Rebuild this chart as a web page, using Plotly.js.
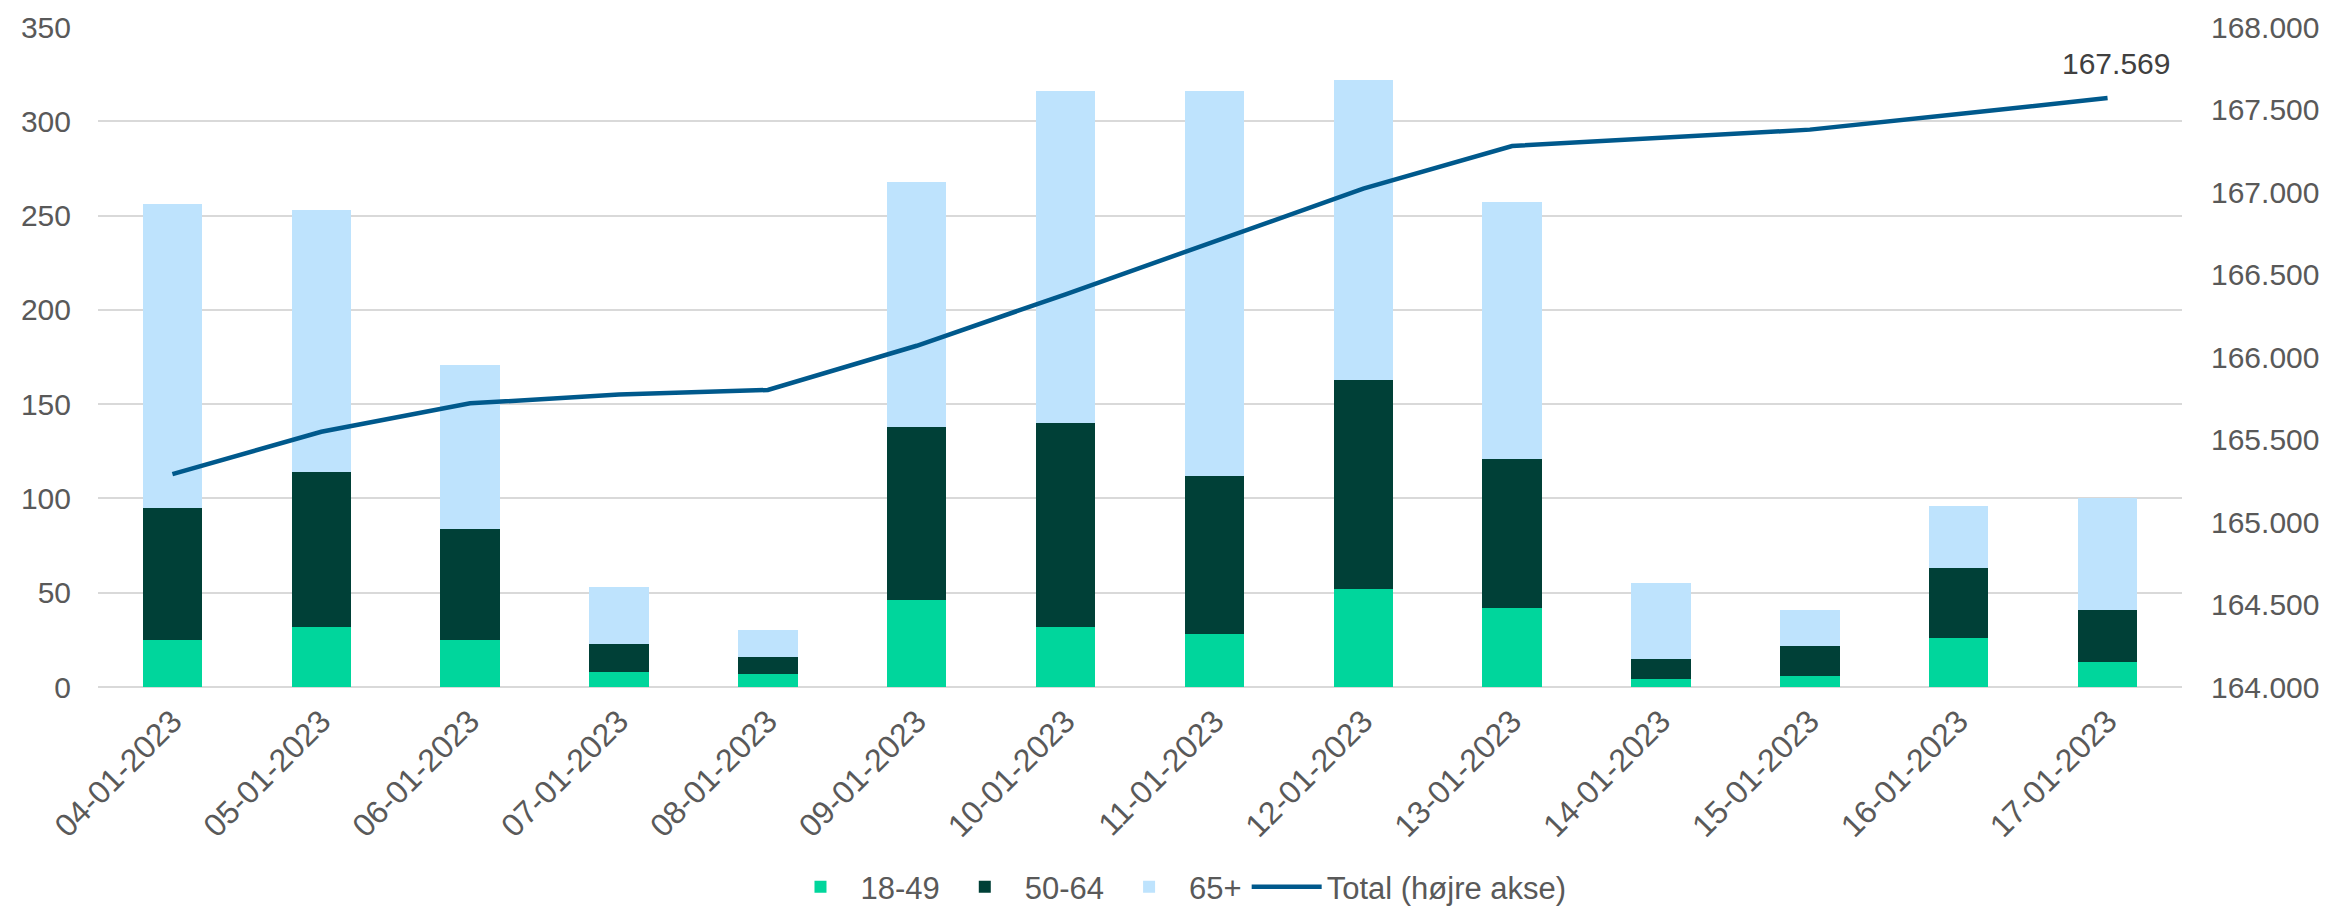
<!DOCTYPE html>
<html>
<head>
<meta charset="utf-8">
<script src="https://cdn.plot.ly/plotly-3.0.1.min.js"></script>
<style>html,body{margin:0;padding:0;background:#fff;}#chart{width:2331px;height:909px;}</style>
</head>
<body>
<div id="chart"></div>
<script>
const dates = ["04-01-2023","05-01-2023","06-01-2023","07-01-2023","08-01-2023","09-01-2023","10-01-2023","11-01-2023","12-01-2023","13-01-2023","14-01-2023","15-01-2023","16-01-2023","17-01-2023"];
const age18_49 = [25, 32, 25, 8, 7, 46, 32, 28, 52, 42, 4, 6, 26, 13];
const age50_64 = [70, 82, 59, 15, 9, 92, 108, 84, 111, 79, 11, 16, 37, 28];
const age65plus = [161, 139, 87, 30, 14, 130, 176, 204, 159, 136, 40, 19, 33, 59];
const total = [165290, 165547, 165719, 165772, 165800, 166068, 166380, 166697, 167020, 167279, 167328, 167378, 167473, 167569];

const font = "Liberation Sans, Arial, sans-serif";
const tickColor = "#595959";

const traces = [
  {type: "bar", name: "18-49", x: dates, y: age18_49, marker: {color: "#00D69C", line: {width: 0}}},
  {type: "bar", name: "50-64", x: dates, y: age50_64, marker: {color: "#004037", line: {width: 0}}},
  {type: "bar", name: "65+", x: dates, y: age65plus, marker: {color: "#BEE3FD", line: {width: 0}}},
  {type: "scatter", mode: "lines", name: "Total (højre akse)", x: dates, y: total, yaxis: "y2",
   line: {color: "#00598C", width: 4.5}}
];

function fmtDa(v) {
  return String(Math.round(v)).replace(/\B(?=(\d{3})+(?!\d))/g, ".");
}
const lastIdx = total.length - 1;

const layout = {
  width: 2331, height: 909,
  margin: {l: 98, r: 149, t: 27, b: 222, pad: 0},
  paper_bgcolor: "#ffffff", plot_bgcolor: "#ffffff",
  separators: ",.",
  barmode: "stack",
  bargap: 0.6,
  font: {family: font, size: 30, color: tickColor},
  showlegend: true,
  legend: {
    orientation: "h", traceorder: "normal",
    xref: "container", yref: "container",
    x: 0.5045, xanchor: "center", y: 0.024, yanchor: "middle",
    font: {family: font, size: 31, color: tickColor},
    itemwidth: 70
  },
  xaxis: {
    type: "category", tickangle: -45, showgrid: false, showline: false, zeroline: false,
    ticks: "", ticklabelstandoff: 8,
    tickfont: {family: font, size: 32, color: tickColor}
  },
  yaxis: {
    range: [0, 350], dtick: 50, tick0: 0, showgrid: true, gridcolor: "#D9D9D9", gridwidth: 2,
    zeroline: true, zerolinecolor: "#D9D9D9", zerolinewidth: 2, showline: false, ticks: "",
    ticklabelstandoff: 26, tickfont: {family: font, size: 30, color: tickColor}
  },
  yaxis2: {
    overlaying: "y", side: "right", range: [164000, 168000], dtick: 500, tick0: 164000,
    tickformat: ",.0f", showgrid: false, zeroline: false, showline: false, ticks: "",
    ticklabelstandoff: 28, tickfont: {family: font, size: 30, color: tickColor}
  },
  annotations: [{
    xref: "x", yref: "y2", x: dates[lastIdx], y: total[lastIdx],
    text: fmtDa(total[lastIdx]), showarrow: false, xanchor: "center", yanchor: "bottom",
    xshift: 8, yshift: 16,
    font: {family: font, size: 30, color: "#404040"}
  }]
};

Plotly.newPlot("chart", traces, layout, {displayModeBar: false, staticPlot: true});
</script>
</body>
</html>
